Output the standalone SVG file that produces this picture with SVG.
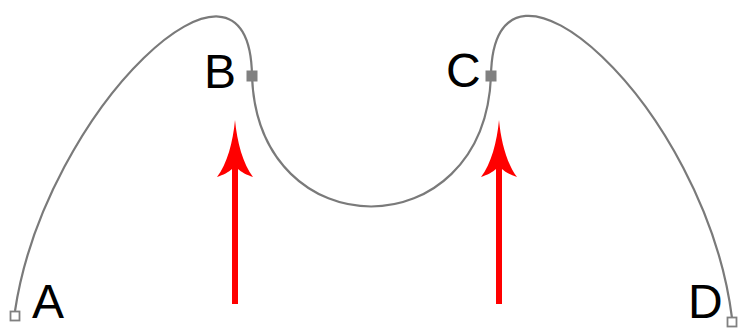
<svg xmlns="http://www.w3.org/2000/svg" xmlns:xlink="http://www.w3.org/1999/xlink" width="744" height="329" viewBox="0 0 744 329">
  <style>
    .curve { fill: none; stroke: #7a7a7a; stroke-width: 2.2; }
    .open { fill: #ffffff; stroke: #808080; stroke-width: 1.8; }
    .solid { fill: #808080; stroke: none; }
    .label { font-family: "Liberation Sans", Arial, sans-serif; font-size: 48px; fill: #000000; }
    .arrow { fill: #ff0000; stroke: none; }
  </style>
  <defs>
    <path id="redArrow" class="arrow" d="M0,0 C2,22 8,44 18,57 C12,55 6,52 3,49 L3,184 L-3,184 L-3,49 C-6,52 -12,55 -18,57 C-8,44 -2,22 0,0 Z"/>
  </defs>
  <rect width="744" height="329" fill="#ffffff"/>
  <g id="connectors">
    <path id="curve" class="curve" d="M15,311 C45,110 250,-85 252,76 C258,250 484,250 491,76 C493,-85 705,105 732,318"/>
  </g>
  <g id="arrows">
    <use xlink:href="#redArrow" href="#redArrow" transform="translate(235,120)"/>
    <use xlink:href="#redArrow" href="#redArrow" transform="translate(499,120)"/>
  </g>
  <g id="node-A">
    <rect class="open" x="10.5" y="311.5" width="9" height="9"/>
    <text class="label" x="32" y="318">A</text>
  </g>
  <g id="node-B">
    <rect class="solid" x="246.5" y="70.5" width="11" height="11"/>
    <text class="label" x="204" y="88">B</text>
  </g>
  <g id="node-C">
    <rect class="solid" x="485.5" y="70.5" width="11" height="11"/>
    <text class="label" x="446" y="87">C</text>
  </g>
  <g id="node-D">
    <rect class="open" x="727.5" y="317.5" width="9" height="9"/>
    <text class="label" x="688" y="318">D</text>
  </g>
</svg>
